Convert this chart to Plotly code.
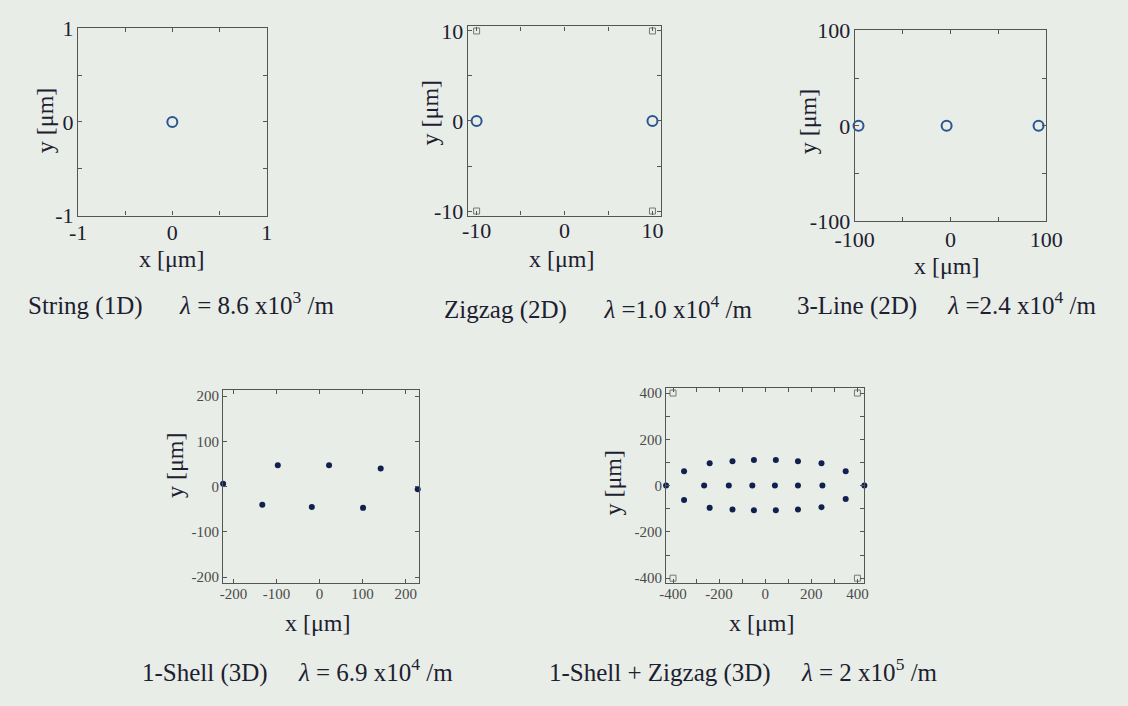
import plotly.graph_objects as go

W, H = 1128, 706

# ---- particle positions (x, y in micrometres) ----
string_x = [0]
string_y = [0]

zigzag_x = [-10, 10]
zigzag_y = [0, 0]
zigzag_corner_x = [-10, 10, -10, 10]
zigzag_corner_y = [10, 10, -10, -10]

line3_x = [-96, -4, 92]
line3_y = [0, 0, 0]

shell_x = [-224, -97, 22, 142, 228, -133, -18, 101]
shell_y = [6, 47, 47, 40, -6, -40, -45, -47]

sz_top_x = [-352, -241, -142, -49, 46, 142, 244, 349]
sz_top_y = [62, 97, 105, 111, 111, 105, 97, 62]
sz_mid_x = [-430, -265, -158, -56, 42, 142, 248, 430]
sz_mid_y = [1, 1, 1, 1, 1, 1, 1, 1]
sz_bot_x = [-352, -241, -142, -49, 46, 142, 244, 349]
sz_bot_y = [-62, -96, -103, -107, -107, -103, -93, -58]
sz_corner_x = [-400, 400, -400, 400]
sz_corner_y = [400, 400, -400, -400]

# ---- labelled ticks and minor tick spacing ----
p1_ticks = [-1, 0, 1]
p1_labels = ["-1", "0", "1"]
p1_minor = 0.5
p2_ticks = [-10, 0, 10]
p2_labels = ["-10", "0", "10"]
p2_minor = 5
p3_ticks = [-100, 0, 100]
p3_labels = ["-100", "0", "100"]
p3_minor = 50
p4_ticks = [-200, -100, 0, 100, 200]
p4_labels = ["-200", "-100", "0", "100", "200"]
p4_minor = 100
p5_ticks = [-400, -200, 0, 200, 400]
p5_labels = ["-400", "-200", "0", "200", "400"]
p5_minor = 100

NB = "\u00a0"
captions = [
    "String (1D)" + NB * 6 + "<i>λ</i> = 8.6 x10<sup>3</sup> /m",
    "Zigzag (2D)" + NB * 6 + "<i>λ</i> =1.0 x10<sup>4</sup> /m",
    "3-Line (2D)" + NB * 5 + "<i>λ</i> =2.4 x10<sup>4</sup> /m",
    "1-Shell (3D)" + NB * 5 + "<i>λ</i> = 6.9 x10<sup>4</sup> /m",
    "1-Shell + Zigzag (3D)" + NB * 5 + "<i>λ</i> = 2 x10<sup>5</sup> /m",
]

BG = "#e9ede7"
FRAME = "#555555"
TXT = "#1c2030"
SERIF = "Liberation Serif, Times New Roman, DejaVu Serif, serif"
OPEN_C = "#2a5592"
DOT_C = "#10214f"


def px_x(a, b):
    return [a / W, b / W]


def px_y(top, bottom):
    return [1 - bottom / H, 1 - top / H]


def axis(domain, rng, vals, labels, minor, fs, anchor, tcol, standoff=0):
    return dict(
        domain=domain, range=rng, anchor=anchor,
        tickmode="array", tickvals=vals, ticktext=labels,
        ticks="inside", ticklen=4, tickwidth=1, tickcolor=FRAME,
        minor=dict(tick0=0, dtick=minor, ticks="inside", ticklen=4,
                   tickwidth=1, tickcolor=FRAME, showgrid=False),
        ticklabelstandoff=standoff,
        showline=True, linecolor=FRAME, linewidth=1.2, mirror="ticks",
        showgrid=False, zeroline=False, fixedrange=True,
        tickfont=dict(family=SERIF, size=fs, color=tcol),
    )


fig = go.Figure()

open_marker = dict(symbol="circle-open", size=10, color=OPEN_C, line=dict(width=2, color=OPEN_C))
dot_marker = dict(symbol="circle", size=6, color=DOT_C)
corner_marker = dict(symbol="square-open", size=6, color="#777777", line=dict(width=1, color="#777777"))


def add(x, y, marker, ax):
    fig.add_trace(go.Scatter(x=x, y=y, mode="markers", marker=marker,
                             xaxis="x" + ax, yaxis="y" + ax,
                             cliponaxis=False, showlegend=False, hoverinfo="skip"))


add(string_x, string_y, open_marker, "")
add(zigzag_corner_x, zigzag_corner_y, corner_marker, "2")
add(zigzag_x, zigzag_y, open_marker, "2")
add(line3_x, line3_y, open_marker, "3")
add(shell_x, shell_y, dot_marker, "4")
add(sz_corner_x, sz_corner_y, corner_marker, "5")
add(sz_top_x + sz_mid_x + sz_bot_x, sz_top_y + sz_mid_y + sz_bot_y, dot_marker, "5")

TOP_FS = 22
BOT_FS = 15
GRAY = "#4a4a4a"

fig.update_layout(
    width=W, height=H,
    margin=dict(l=0, r=0, t=0, b=0),
    paper_bgcolor=BG, plot_bgcolor=BG,
    xaxis=axis(px_x(60, 255), [-1, 1], p1_ticks, p1_labels, p1_minor, TOP_FS, "y", TXT, -3),
    yaxis=axis(px_y(17, 211), [-1, 1], p1_ticks, p1_labels, p1_minor, TOP_FS, "x", TXT, -1),
    xaxis2=axis(px_x(463, 663), [-11, 11], p2_ticks, p2_labels, p2_minor, TOP_FS, "y2", TXT, -5),
    yaxis2=axis(px_y(15, 211), [-10.5, 10.5], p2_ticks, p2_labels, p2_minor, TOP_FS, "x2", TXT, -1),
    xaxis3=axis(px_x(863, 1061), [-100, 100], p3_ticks, p3_labels, p3_minor, TOP_FS, "y3", TXT, -2),
    yaxis3=axis(px_y(19, 217), [-100, 100], p3_ticks, p3_labels, p3_minor, TOP_FS, "x3", TXT, -1),
    xaxis4=axis(px_x(210, 413), [-224, 232], p4_ticks, p4_labels, p4_minor, BOT_FS, "y4", GRAY, -3),
    yaxis4=axis(px_y(392, 592), [-213, 213], p4_ticks, p4_labels, p4_minor, BOT_FS, "x4", GRAY),
    xaxis5=axis(px_x(668, 873), [-430, 430], p5_ticks, p5_labels, p5_minor, BOT_FS, "y5", GRAY, -3),
    yaxis5=axis(px_y(390, 592), [-421, 421], p5_ticks, p5_labels, p5_minor, BOT_FS, "x5", GRAY),
)

annotations = []


def label(text, cx, cy, size, angle=0):
    annotations.append(dict(
        text=text, x=cx / W, y=1 - cy / H, xref="paper", yref="paper",
        xanchor="center", yanchor="middle", showarrow=False, textangle=angle,
        font=dict(family=SERIF, size=size, color=TXT),
    ))


# axis titles
label("x [μm]", 157, 256, 24)
label("y [μm]", 26, 112, 24, -90)
label("x [μm]", 560, 256, 24)
label("y [μm]", 424, 104, 24, -90)
label("x [μm]", 958, 263, 24)
label("y [μm]", 815, 113, 24, -90)
label("x [μm]", 308, 633, 24)
label("y [μm]", 161, 470, 24, -90)
label("x [μm]", 767, 633, 24)
label("y [μm]", 613, 488, 24, -90)

# captions
label(captions[0], 166, 302, 25)
label(captions[1], 598, 306, 25)
label(captions[2], 958, 302, 25)
label(captions[3], 287, 683, 25)
label(captions[4], 748, 683, 25)

fig.update_layout(annotations=annotations)

fig.write_html("out.html")
